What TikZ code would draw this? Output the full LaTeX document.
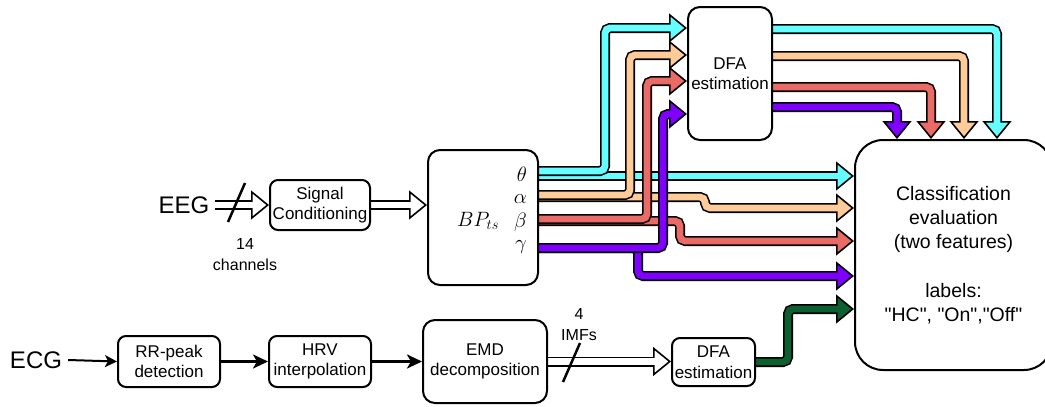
\documentclass[tikz,border=0pt]{standalone}
\usepackage{fontspec}
\setmainfont{Liberation Sans}[Ligatures=TeXOff]
\usetikzlibrary{arrows.meta,backgrounds}
\definecolor{bcyan}{HTML}{66FFFF}
\definecolor{borange}{HTML}{FFCC99}
\definecolor{bred}{HTML}{EA6B66}
\definecolor{bpurple}{HTML}{7F00FF}
\definecolor{bgreen}{HTML}{0C6030}
\newcommand\flexband[2]{\draw[bandout=#1] #2; \draw[bandin=#1] #2;}
\begin{document}
\begin{tikzpicture}[x=1pt,y=-1pt,
  box/.style={draw=black, line width=2pt, fill=white, rounded corners=8pt, align=center, inner sep=1pt, font=\fontsize{17}{20.5}\selectfont},
  bigtxt/.style={inner sep=0pt, font=\fontsize{24}{28}\selectfont},
  smalltxt/.style={inner sep=0pt, align=center, font=\fontsize{16}{21}\selectfont},
  glabel/.style={inner sep=0pt, anchor=east, font=\fontsize{20}{24}\selectfont},
  bandout/.style={draw=black, line width=10pt, rounded corners=5pt, -{Triangle[length=18pt,width=29pt,fill=#1,line width=1.6pt]}},
  bandin/.style={draw=#1, line width=6.8pt, rounded corners=5pt, shorten >=15pt},
  thinarrow/.style={draw=black, line width=2pt, -{Stealth[length=12pt,width=12pt,inset=3pt]}},
  thickarrow/.style={draw=black, line width=3pt, -{Stealth[length=15pt,width=14pt,inset=4pt]}},
  slash/.style={draw=black, line width=2.5pt},
]
\useasboundingbox (0,0) rectangle (1045,407);
\node[bigtxt] (eeg) at (184,205) {EEG};
\node[bigtxt] (ecg) at (36,360) {ECG};
\node[box, minimum width=100, minimum height=50] (sc) at (320,205) {Signal\\Conditioning};
\node[box, rounded corners=12pt, minimum width=110, minimum height=135] (bp) at (483,217.5) {};
\node[inner sep=0pt, font=\fontsize{20}{24}\selectfont] (bpl) at (478,221) {$BP_{ts}$};
\node[glabel] (lth) at (527,174) {$\theta$};
\node[glabel] (lal) at (527,199) {$\alpha$};
\node[glabel] (lbe) at (527,222) {$\beta$};
\node[glabel] (lga) at (527,247) {$\gamma$};
\node[box, rounded corners=12pt, minimum width=84, minimum height=133] (dfa1) at (730,73.5) {DFA\\estimation};
\node[box, rounded corners=28pt, minimum width=197, minimum height=230, font=\fontsize{19.5}{24.3}\selectfont] (cls) at (953.5,255) {Classification\\evaluation\\(two features)\\[24.3pt]labels:\\"HC", "On","Off"};
\node[box, minimum width=102, minimum height=51] (rr) at (169,361.5) {RR-peak\\detection};
\node[box, minimum width=102, minimum height=51] (hrv) at (320,361.5) {HRV\\interpolation};
\node[box, rounded corners=12pt, minimum width=124, minimum height=83] (emd) at (485,361.5) {EMD\\decomposition};
\node[box, minimum width=83, minimum height=48] (dfa2) at (713.5,362) {DFA\\estimation};
\node[smalltxt] (ch) at (245,255) {14\\channels};
\node[smalltxt] (imf) at (579,325) {4\\IMFs};
\begin{scope}[on background layer]
 \flexband{bcyan}{(bp.east |- 0,176) -- (cls.west |- 0,176)}
 \flexband{borange}{(bp.east |- 0,197) -- (705,197) -- (705,208) -- (cls.west |- 0,208)}
 \flexband{bred}{(bp.east |- 0,221) -- (680,221) -- (680,241) -- (cls.west |- 0,241)}
 \flexband{bpurple}{(bp.east |- 0,248) -- (638,248) -- (638,276) -- (cls.west |- 0,276)}
 \flexband{bcyan}{(bp.east |- 0,171) -- (605,171) -- (605,28) -- (dfa1.west |- 0,28)}
 \flexband{borange}{(bp.east |- 0,195) -- (630,195) -- (630,55) -- (dfa1.west |- 0,55)}
 \flexband{bred}{(bp.east |- 0,219) -- (647,219) -- (647,81) -- (dfa1.west |- 0,81)}
 \flexband{bpurple}{(bp.east |- 0,248) -- (663,248) -- (663,114) -- (dfa1.west |- 0,114)}
 \flexband{bcyan}{(dfa1.east |- 0,29) -- (997,29) -- (997,0 |- cls.north)}
 \flexband{borange}{(dfa1.east |- 0,56) -- (964,56) -- (964,0 |- cls.north)}
 \flexband{bred}{(dfa1.east |- 0,87) -- (931,87) -- (931,0 |- cls.north)}
 \flexband{bpurple}{(dfa1.east |- 0,107) -- (897,107) -- (897,0 |- cls.north)}
 \flexband{bgreen}{(dfa2.east) -- (788,362) -- (788,309) -- (cls.west |- 0,309)}
 \flexband{white}{([xshift=5pt]eeg.east) -- (sc.west)}
 \flexband{white}{(sc.east) -- (bp.west |- sc.east)}
 \flexband{white}{(emd.east) -- (dfa2.west |- emd.east)}
\end{scope}
\draw[thinarrow] ([xshift=6pt]ecg.east) -- (rr.west);
\draw[thickarrow] (rr.east) -- (hrv.west);
\draw[thickarrow] (hrv.east) -- (emd.west |- hrv.east);
\draw[slash] (228,222) -- (245,183);
\draw[slash] (563,382) -- (580,343);
\end{tikzpicture}
\end{document}
